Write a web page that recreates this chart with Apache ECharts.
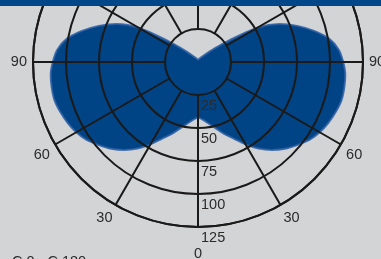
<!DOCTYPE html>
<html>
<head>
<meta charset="utf-8">
<script src="https://cdn.jsdelivr.net/npm/echarts@6/dist/echarts.min.js"></script>
<style>
html,body{margin:0;padding:0;background:#d3d4d6;}
#polarChart{width:381px;height:259px;}
</style>
</head>
<body>
<div id="polarChart"></div>
<script>
// gamma angle (0 = straight down, 180 = up) and luminous intensity
var gammaAngles = [0,5,10,15,20,25,30,35,40,45,50,55,60,65,70,75,80,85,90,
	95,100,105,110,115,120,125,130,135,140,145,150,155,160,165,170,175,180];
var intensity = [42,44,47.5,52,58,64,72,80,87,93,98,103,106.5,109,111,112.5,112.5,112,110,
	107,101,91,80,68,52,28,15,9,6,4.5,3.5,3,2.5,2.2,2,2,2];
var radiusTicks = [0,25,50,75,100,125];
var angleStep = 30;
var captionText = 'C 0 - C 180';

var myChart = echarts.init(document.getElementById('polarChart'));

// left half uses gamma as is, right half is mirrored (360 - gamma)
var curve = [];
for (var i = 0; i < gammaAngles.length; i++) {
	curve.push([intensity[i], gammaAngles[i]]);
}
for (var j = gammaAngles.length - 2; j >= 0; j--) {
	curve.push([intensity[j], 360 - gammaAngles[j]]);
}

var lineColor = '#1a1a1a';
var labelFont = {color: '#2b2b2b', fontFamily: 'Liberation Sans', fontSize: 14.5};

var option = {
	backgroundColor: '#d3d4d6',
	animation: false,
	polar: [
		{center: [198, 62], radius: 165},
		{center: [198, 62], radius: [33, 165]}
	],
	angleAxis: [
		{
			polarIndex: 0, type: 'value', min: 0, max: 360, interval: angleStep,
			startAngle: 270, clockwise: true, z: 10,
			axisLine: {show: true, lineStyle: {color: lineColor, width: 2}},
			axisTick: {show: false},
			splitLine: {show: false},
			axisLabel: {
				show: true, margin: 6,
				color: labelFont.color, fontFamily: labelFont.fontFamily, fontSize: labelFont.fontSize,
				formatter: function (v) {
					if (v >= 360) return '';
					var g = v > 180 ? 360 - v : v;
					return g === 0 ? '{low|0}' : String(g);
				},
				rich: {low: {padding: [13, 0, 0, 0], color: labelFont.color, fontFamily: labelFont.fontFamily, fontSize: labelFont.fontSize}}
			}
		},
		{
			polarIndex: 1, type: 'value', min: 0, max: 360, interval: angleStep,
			startAngle: 270, clockwise: true, z: 10,
			axisLine: {show: false},
			axisTick: {show: false},
			axisLabel: {show: false},
			splitLine: {show: true, lineStyle: {color: lineColor, width: 2}}
		}
	],
	radiusAxis: [
		{
			polarIndex: 0, type: 'value', min: radiusTicks[0], max: radiusTicks[radiusTicks.length - 1],
			interval: radiusTicks[1] - radiusTicks[0], z: 10,
			axisLine: {show: false},
			axisTick: {show: false},
			splitLine: {show: true, lineStyle: {color: lineColor, width: 2}},
			axisLabel: {
				show: true, showMinLabel: false, margin: 0,
				align: 'left', verticalAlign: 'top', padding: [3, 0, 0, 3],
				color: labelFont.color, fontFamily: labelFont.fontFamily, fontSize: labelFont.fontSize
			}
		},
		{polarIndex: 1, type: 'value', min: 0, max: 1, show: false}
	],
	series: [
		{
			type: 'line',
			coordinateSystem: 'polar',
			polarIndex: 0,
			data: curve,
			smooth: 0.3,
			symbol: 'none',
			z: 2,
			lineStyle: {color: 'rgba(45,95,165,0.85)', width: 2},
			areaStyle: {color: '#004485', opacity: 1}
		}
	],
	graphic: [
		{type: 'rect', left: 0, top: 0, z: 100, shape: {width: 381, height: 6}, style: {fill: '#00478a'}},
		{type: 'text', left: 12, top: 254, z: 100,
			style: {text: captionText, fill: '#2b2b2b', font: '14.5px "Liberation Sans"'}}
	]
};
myChart.setOption(option);
</script>
</body>
</html>
